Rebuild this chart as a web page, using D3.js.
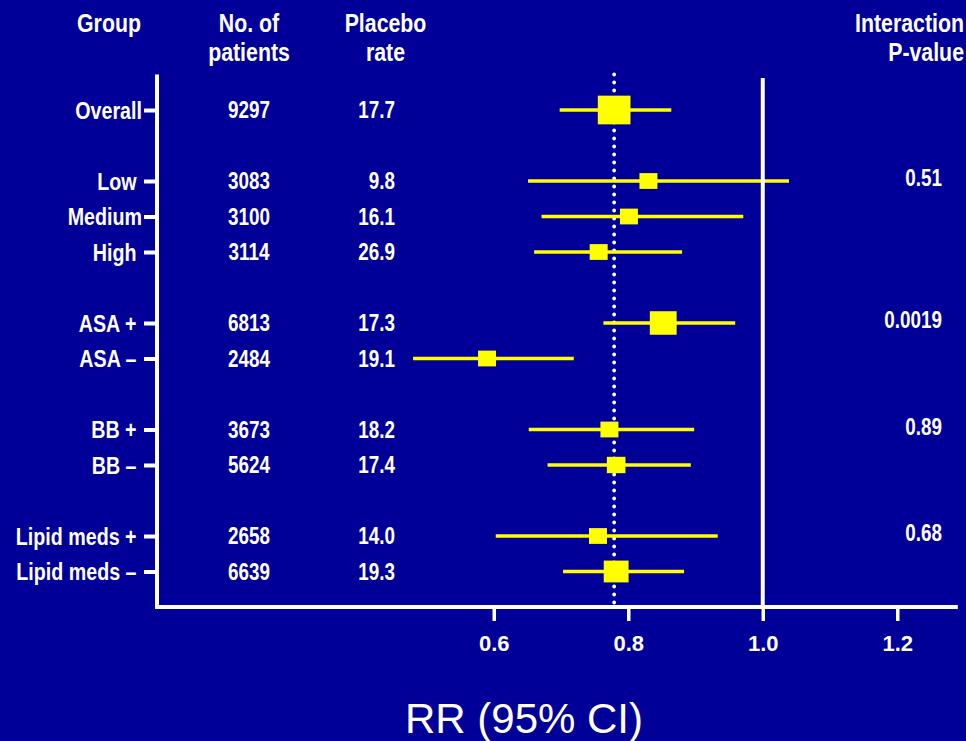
<!DOCTYPE html>
<html>
<head>
<meta charset="utf-8">
<script src="https://cdn.jsdelivr.net/npm/d3@7"></script>
<style>
  html, body { margin: 0; padding: 0; background: #000099; }
  svg { display: block; }
</style>
</head>
<body>
<svg id="chart" width="966" height="741"></svg>
<script>
// ---------- data ----------
const labels      = ["Overall", "Low\u00a0", "Medium", "High\u00a0", "ASA +\u00a0", "ASA \u2013\u00a0", "BB +\u00a0", "BB \u2013\u00a0", "Lipid meds +\u00a0", "Lipid meds \u2013\u00a0"];
const subgroups   = ["overall", "risk", "risk", "risk", "asa", "asa", "bb", "bb", "lipid", "lipid"];
const patients    = ["9297", "3083", "3100", "3114", "6813", "2484", "3673", "5624", "2658", "6639"];
const placeboRate = ["17.7", "9.8", "16.1", "26.9", "17.3", "19.1", "18.2", "17.4", "14.0", "19.3"];
const rr          = [0.779, 0.830, 0.801, 0.756, 0.852, 0.590, 0.772, 0.782, 0.755, 0.782];
const rrLow       = [0.698, 0.651, 0.671, 0.660, 0.763, 0.480, 0.652, 0.680, 0.603, 0.703];
const rrHigh      = [0.864, 1.039, 0.971, 0.880, 0.959, 0.719, 0.898, 0.893, 0.933, 0.883];
const weight      = [1.00, 0.55, 0.55, 0.55, 0.82, 0.55, 0.55, 0.57, 0.55, 0.76];
const pValues     = [null, "0.51", null, null, "0.0019", null, "0.89", null, "0.68", null];
const xTicks      = [0.6, 0.8, 1.0, 1.2];
const headerGroup = ["Group"];
const headerN     = ["No. of", "patients"];
const headerRate  = ["Placebo", "rate"];
const headerP     = ["Interaction", "P-value"];
const xTitle = "RR (95% CI)";

// ---------- layout ----------
const svg = d3.select("#chart");
const W = 966, H = 741;
const FONT = "'Liberation Sans', Arial, sans-serif";
const NARROW = 0.82;   // emulate Arial Narrow Bold
const WHITE = "#ffffff", YELLOW = "#ffff00";
svg.append("rect").attr("width", W).attr("height", H).attr("fill", "#000099");

// row slot positions: one blank slot between subgroups
const slots = [];
let s = 0;
subgroups.forEach((g, i) => {
  if (i > 0) s += (g !== subgroups[i - 1]) ? 2 : 1;
  slots.push(s);
});

const x = d3.scaleLinear().domain([0.1, 1.29]).range([157.5, 957.8]);
const y = d3.scaleLinear().domain([-1, slots[slots.length - 1] + 1]).range([74.5, 607]);
const boxW = d3.scaleLinear().domain([0, 1]).range([0, 32.7]);
const boxH = d3.scaleLinear().domain([0, 1]).range([0, 28.7]);

function narrowText(parent, tx, ty, str, size, anchor, dy) {
  const g = parent.append("g").attr("transform", `translate(${tx},${ty}) scale(${NARROW},1)`);
  return g.append("text")
    .attr("font-family", FONT).attr("font-weight", "bold")
    .attr("font-size", size).attr("fill", WHITE)
    .attr("text-anchor", anchor).attr("dy", dy || 0).text(str);
}

// headers
const hdr = svg.append("g");
headerGroup.forEach((t, i) => narrowText(hdr, 109, 32 + i * 28.5, t, 26, "middle"));
headerN.forEach((t, i) => narrowText(hdr, 249, 32 + i * 28.5, t, 26, "middle"));
headerRate.forEach((t, i) => narrowText(hdr, 385.5, 32 + i * 28.5, t, 26, "middle"));
headerP.forEach((t, i) => narrowText(hdr, 964, 32 + i * 28.5, t, 26, "end"));

// reference dotted line at overall estimate
svg.append("line")
  .attr("x1", x(rr[0])).attr("x2", x(rr[0]))
  .attr("y1", y.range()[0]).attr("y2", y.range()[1] - 3)
  .attr("stroke", WHITE).attr("stroke-width", 3.8)
  .attr("stroke-linecap", "round").attr("stroke-dasharray", "0,8");

// CI lines
const idx = d3.range(labels.length);
svg.append("g").selectAll("line").data(idx).join("line")
  .attr("x1", i => x(rrLow[i])).attr("x2", i => x(rrHigh[i]))
  .attr("y1", i => y(slots[i])).attr("y2", i => y(slots[i]))
  .attr("stroke", YELLOW).attr("stroke-width", 3.6);

// line of no effect
svg.append("line")
  .attr("x1", x(1.0)).attr("x2", x(1.0))
  .attr("y1", y.range()[0] + 3.5).attr("y2", y.range()[1])
  .attr("stroke", WHITE).attr("stroke-width", 4);

// boxes
svg.append("g").selectAll("rect").data(idx).join("rect")
  .attr("x", i => x(rr[i]) - boxW(weight[i]) / 2)
  .attr("y", i => y(slots[i]) - boxH(weight[i]) / 2)
  .attr("width", i => boxW(weight[i]))
  .attr("height", i => boxH(weight[i]))
  .attr("fill", YELLOW);

// left axis with group labels
const yPad = 2, yTick = 13;
const yAxis = d3.axisLeft(y)
  .tickValues(slots)
  .tickFormat((d, i) => labels[i])
  .tickSizeInner(yTick).tickSizeOuter(0).tickPadding(yPad);
const gy = svg.append("g").attr("transform", "translate(157,0)").call(yAxis);
gy.select(".domain").attr("stroke", WHITE).attr("stroke-width", 4)
  .attr("d", `M0,${y.range()[0]}V${y.range()[1] + 2}`);
gy.selectAll(".tick line").attr("stroke", WHITE).attr("stroke-width", 4);
gy.selectAll(".tick text")
  .attr("font-family", FONT).attr("font-weight", "bold")
  .attr("fill", WHITE).attr("font-size", 24).attr("dy", "0.35em")
  .attr("x", -(yTick + yPad) / NARROW)
  .attr("transform", `scale(${NARROW},1)`);

// bottom axis
const xAxis = d3.axisBottom(x).tickValues(xTicks)
  .tickFormat(d3.format(".1f")).tickSizeInner(14).tickSizeOuter(0).tickPadding(14);
const gx = svg.append("g").attr("transform", `translate(0,${y.range()[1]})`).call(xAxis);
gx.select(".domain").attr("stroke", WHITE).attr("stroke-width", 4)
  .attr("d", `M${x.range()[0] - 2},0H${x.range()[1]}`);
gx.selectAll(".tick line").attr("stroke", WHITE).attr("stroke-width", 3.5);
gx.selectAll(".tick text").attr("fill", WHITE)
  .attr("font-family", FONT).attr("font-weight", "bold").attr("font-size", 22);

// table columns
const cols = svg.append("g");
idx.forEach(i => {
  narrowText(cols, 249, y(slots[i]), patients[i], 23, "middle", "0.36em");
  narrowText(cols, 395, y(slots[i]), placeboRate[i], 23, "end", "0.36em");
  if (pValues[i]) narrowText(cols, 942, y(slots[i]) - 3, pValues[i], 23, "end", "0.36em");
});

// x title
svg.append("text")
  .attr("x", 524).attr("y", 733)
  .attr("text-anchor", "middle")
  .attr("font-family", FONT)
  .attr("font-size", 42).attr("fill", WHITE).text(xTitle);
</script>
</body>
</html>
